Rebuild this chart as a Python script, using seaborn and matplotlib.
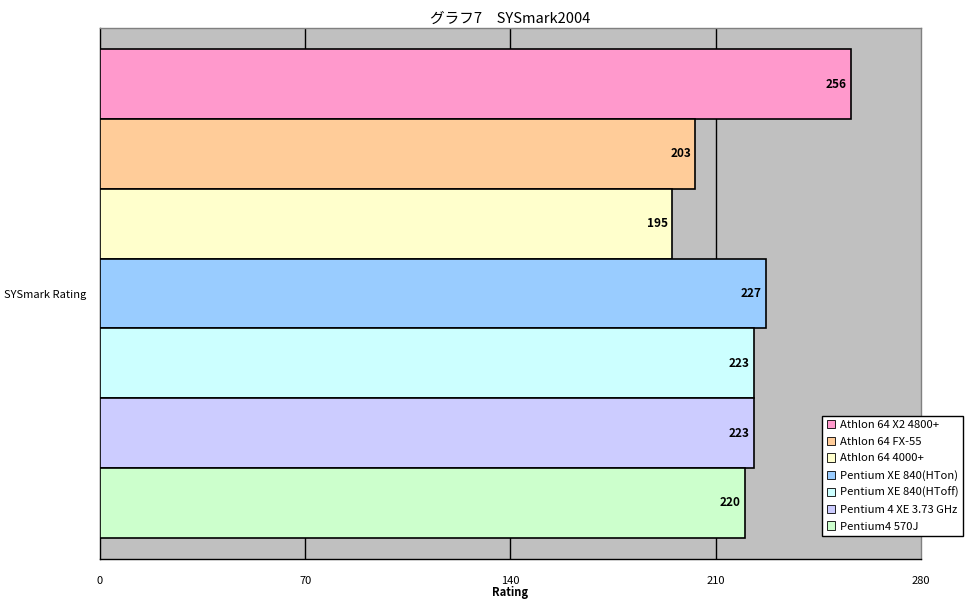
import pandas as pd
import matplotlib
matplotlib.use('Agg')
import matplotlib.pyplot as plt
import seaborn as sns

# --- DATA ---
category = ['SYSmark Rating']
cpus = ['Athlon 64 X2 4800+', 'Athlon 64 FX-55', 'Athlon 64 4000+',
        'Pentium XE 840(HTon)', 'Pentium XE 840(HToff)',
        'Pentium 4 XE 3.73 GHz', 'Pentium4 570J']
ratings = [256, 203, 195, 227, 223, 223, 220]
colors = ['#FF99CC', '#FFCC99', '#FFFFCC', '#99CCFF', '#CCFFFF', '#CCCCFF', '#CCFFCC']
x_ticks = [0, 70, 140, 210, 280]

df = pd.DataFrame({'test': category * len(cpus), 'cpu': cpus, 'rating': ratings})

# --- PLOT ---
sns.set_theme(style='white')
plt.rcParams['font.family'] = ['Noto Sans CJK JP', 'DejaVu Sans']
plt.rcParams['text.color'] = 'black'
plt.rcParams['xtick.color'] = 'black'
plt.rcParams['ytick.color'] = 'black'
plt.rcParams['axes.labelcolor'] = 'black'

fig = plt.figure(figsize=(9.7, 6.04), dpi=100)
ax = fig.add_axes([100 / 970, 45 / 604, 821 / 970, 531 / 604])
ax.set_facecolor('#C0C0C0')

sns.barplot(data=df, x='rating', y='test', hue='cpu', hue_order=cpus,
            palette=colors, saturation=1, orient='h', width=0.92, dodge=True,
            edgecolor='black', linewidth=1.2, ax=ax, zorder=3, legend=True)

for c in ax.containers:
    labels = ax.bar_label(c, padding=-3, fontsize=8.5, fontweight='bold')
    for t in labels:
        t.set_ha('right')

ax.set_xlim(0, 280)
ax.set_ylim(0.5, -0.5)
ax.set_xticks(x_ticks)
ax.set_xticklabels([str(v) for v in x_ticks], fontsize=8)
ax.tick_params(axis='both', length=0, pad=12)
ax.tick_params(axis='y', pad=10, labelsize=8)
for v in x_ticks[1:-1]:
    ax.axvline(v, color='black', linewidth=1, zorder=1)

ax.set_xlabel('Rating', fontsize=8, fontweight='bold', labelpad=0)
ax.set_ylabel('')
ax.set_title('グラフ7　SYSmark2004', fontsize=10.5, pad=4)

ax.spines['left'].set_color('black')
ax.spines['bottom'].set_color('black')
ax.spines['top'].set_color('#808080')
ax.spines['right'].set_color('#808080')
for s in ax.spines.values():
    s.set_linewidth(1)

leg = ax.legend(loc='lower right', bbox_to_anchor=(963 / 970, 68 / 604),
                bbox_transform=fig.transFigure, fontsize=8.1, frameon=True,
                fancybox=False, edgecolor='black', facecolor='white',
                framealpha=1, handlelength=0.75, handleheight=0.75,
                handletextpad=0.4, labelspacing=0.58, borderpad=0.4,
                borderaxespad=0)
leg.get_frame().set_linewidth(1)
for h in leg.legend_handles:
    h.set_linewidth(0.6)

plt.savefig('out.png', dpi=100)
plt.close()
